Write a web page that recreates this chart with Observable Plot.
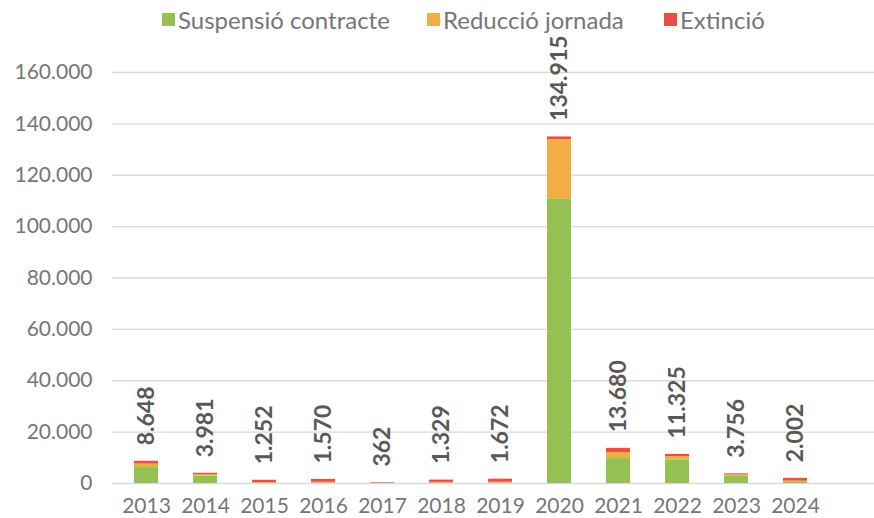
<!DOCTYPE html>
<html><head><meta charset="utf-8">
<script src="https://cdn.jsdelivr.net/npm/d3@7"></script>
<script src="https://cdn.jsdelivr.net/npm/@observablehq/plot@0.6"></script>
<style>
body{margin:0;background:#fff;font-family:Lato,sans-serif;width:874px;height:518px;overflow:hidden}
#legend{height:40px;position:relative;font-size:24px;color:#767676}
.li{position:absolute;top:5px;display:flex;align-items:center;white-space:nowrap}
.sw{width:13px;height:13px;margin-right:3px;display:inline-block}
#chart svg{overflow:visible}
</style></head><body>
<div id="legend"></div><div id="chart"></div>
<script>
const years = ["2013","2014","2015","2016","2017","2018","2019","2020","2021","2022","2023","2024"];
const suspensio = [6200,2900,100,100,50,80,100,110600,9700,9200,2800,400];
const reduccio = [1350,600,200,370,100,350,400,23250,2250,1200,500,500];
const extincio = [1098,481,952,1100,212,899,1172,1065,1730,925,456,1102];
const totals = [8648,3981,1252,1570,362,1329,1672,134915,13680,11325,3756,2002];
const seriesNames = ["Suspensió contracte","Reducció jornada","Extinció"];
const seriesColors = ["#95c152","#f2ae43","#e94f46"];
const yTicks = [0,20000,40000,60000,80000,100000,120000,140000,160000];

const fmt = d => String(d).replace(/\B(?=(\d{3})+(?!\d))/g, ".");
const seriesValues = [suspensio, reduccio, extincio];
const rows = [];
years.forEach((y, i) => seriesNames.forEach((s, j) => rows.push({year: y, series: s, value: seriesValues[j][i]})));
const labels = years.map((y, i) => ({year: y, total: totals[i]}));

// legend
const legendPos = [162, 427, 664];
const lg = document.getElementById("legend");
seriesNames.forEach((s, j) => {
  const d = document.createElement("div");
  d.className = "li"; d.style.left = legendPos[j] + "px";
  d.innerHTML = `<span class="sw" style="background:${seriesColors[j]}"></span><span>${s}</span>`;
  lg.appendChild(d);
});

const chart = Plot.plot({
  width: 874, height: 478,
  marginTop: 32, marginBottom: 35, marginLeft: 112, marginRight: 0,
  style: {fontFamily: "Lato, sans-serif", fontSize: "21px", color: "#767676", background: "#fff", overflow: "visible"},
  x: {domain: years, range: [112, 829], paddingInner: 0.598, paddingOuter: 0.3, label: null, tickSize: 0, tickPadding: 15},
  y: {domain: [0, 160000], ticks: yTicks, tickFormat: fmt, label: null, tickSize: 0, tickPadding: 20},
  color: {domain: seriesNames, range: seriesColors},
  marks: [
    Plot.ruleY(yTicks, {stroke: "#d9d9d9", strokeWidth: 1.3}),
    Plot.barY(rows, {x: "year", y: "value", fill: "series"}),
    Plot.text(labels, {x: "year", y: "total", text: d => fmt(d.total), rotate: -90, textAnchor: "start", dy: -16, fontSize: 23, fontWeight: "bold", fill: "#595959"})
  ]
});
document.getElementById("chart").appendChild(chart);
</script>
</body></html>
